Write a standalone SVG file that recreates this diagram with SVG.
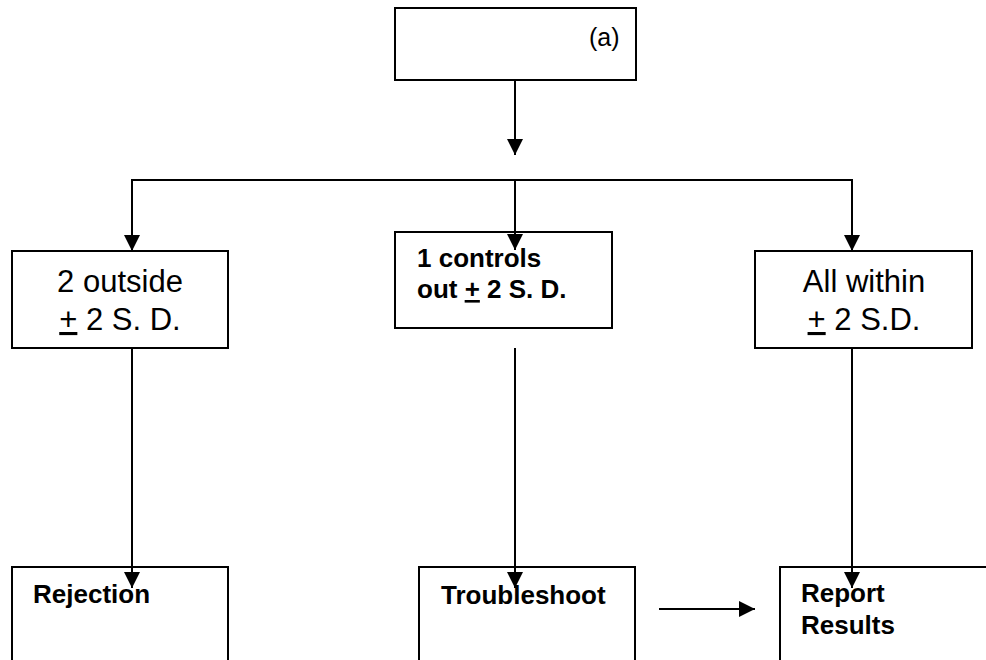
<svg xmlns="http://www.w3.org/2000/svg" width="986" height="660" viewBox="0 0 986 660">
<style>
.box{fill:#fff;stroke:#000;stroke-width:2}
.c{fill:none;stroke:#000;stroke-width:2}
.r{font-family:"Liberation Sans",Arial,sans-serif;font-size:31px;fill:#000}
.b{font-family:"Liberation Sans",Arial,sans-serif;font-size:26px;font-weight:bold;fill:#000}
.s{font-family:"Liberation Sans",Arial,sans-serif;font-size:25px;fill:#000}
.u{text-decoration:underline}
</style>
<defs>
<marker id="ah" viewBox="0 0 16 16" markerWidth="16" markerHeight="16" refX="16" refY="8" orient="auto" markerUnits="userSpaceOnUse">
<path d="M0,0 L16,8 L0,16 z" fill="#000"/>
</marker>
</defs>
<rect width="986" height="660" fill="#fff"/>
<g id="node-a">
<rect class="box" x="395" y="8" width="241" height="72"/>
<text class="s" x="589" y="46">(a)</text>
</g>
<g id="node-outside">
<rect class="box" x="12" y="251" width="216" height="97"/>
<text class="r" x="120" y="292" text-anchor="middle">2 outside</text>
<text class="r" x="120" y="330" text-anchor="middle"><tspan class="u">+</tspan> 2 S. D.</text>
</g>
<g id="node-controls">
<rect class="box" x="395" y="232" width="217" height="96"/>
<text class="b" x="417" y="267">1 controls</text>
<text class="b" x="417" y="298">out <tspan class="u">+</tspan> 2 S. D.</text>
</g>
<g id="node-within">
<rect class="box" x="755" y="251" width="217" height="97"/>
<text class="r" x="864" y="292" text-anchor="middle">All within</text>
<text class="r" x="864" y="330" text-anchor="middle"><tspan class="u">+</tspan> 2 S.D.</text>
</g>
<g id="node-rejection">
<rect class="box" x="12" y="567" width="216" height="110"/>
<text class="b" x="33" y="603">Rejection</text>
</g>
<g id="node-troubleshoot">
<rect class="box" x="419" y="567" width="216" height="110"/>
<text class="b" x="441" y="604">Troubleshoot</text>
</g>
<g id="node-report">
<rect class="box" x="780" y="567" width="230" height="110"/>
<text class="b" x="801" y="602">Report</text>
<text class="b" x="801" y="634">Results</text>
</g>
<g id="connectors">
<line class="c" x1="515" y1="80" x2="515" y2="155" marker-end="url(#ah)"/>
<line class="c" x1="131" y1="180" x2="853" y2="180"/>
<line class="c" x1="132" y1="180" x2="132" y2="251" marker-end="url(#ah)"/>
<line class="c" x1="515" y1="180" x2="515" y2="250" marker-end="url(#ah)"/>
<line class="c" x1="852" y1="180" x2="852" y2="251" marker-end="url(#ah)"/>
<line class="c" x1="132" y1="348" x2="132" y2="588" marker-end="url(#ah)"/>
<line class="c" x1="515" y1="348" x2="515" y2="588" marker-end="url(#ah)"/>
<line class="c" x1="852" y1="348" x2="852" y2="588" marker-end="url(#ah)"/>
<line class="c" x1="659" y1="609" x2="755" y2="609" marker-end="url(#ah)"/>
</g>
</svg>
